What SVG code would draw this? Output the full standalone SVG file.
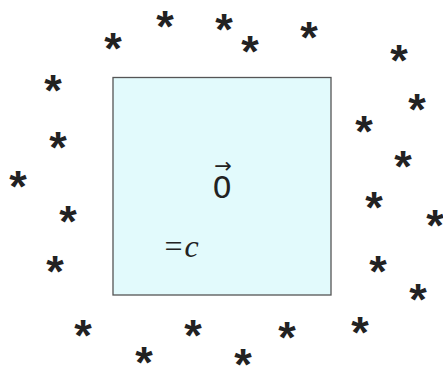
<svg xmlns="http://www.w3.org/2000/svg" width="443" height="366" viewBox="0 0 443 366">
<style>
.s{font-family:"Liberation Sans",Arial,sans-serif;font-size:45px;font-weight:bold;fill:#222;text-anchor:middle}
.box{fill:#e2fafc;stroke:#555;stroke-width:1.3}
.v{font-family:"DejaVu Sans",sans-serif;font-size:31px;fill:#222;text-anchor:middle}
.a{font-family:"DejaVu Sans",sans-serif;font-size:21px;fill:#222;text-anchor:middle}
.m{font-family:"Liberation Serif",serif;font-size:32px;fill:#222}
</style>
<rect width="443" height="366" fill="#fff"/>
<g id="box">
<rect class="box" x="113" y="77.5" width="218" height="217.5"/>
<text class="v" x="222" y="198">0</text>
<text class="a" x="223" y="173">→</text>
<text class="m" x="164.5" y="257">=<tspan font-style="italic" dx="2">c</tspan></text>
</g>
<g id="stars">
<text class="s" x="113" y="64">*</text>
<text class="s" x="165" y="42">*</text>
<text class="s" x="224" y="45">*</text>
<text class="s" x="250" y="67">*</text>
<text class="s" x="309" y="53">*</text>
<text class="s" x="399" y="76">*</text>
<text class="s" x="53" y="106">*</text>
<text class="s" x="417" y="125">*</text>
<text class="s" x="364" y="147">*</text>
<text class="s" x="58" y="163">*</text>
<text class="s" x="403" y="182">*</text>
<text class="s" x="18" y="202">*</text>
<text class="s" x="374" y="223">*</text>
<text class="s" x="435" y="241">*</text>
<text class="s" x="68" y="237">*</text>
<text class="s" x="55" y="287">*</text>
<text class="s" x="378" y="287">*</text>
<text class="s" x="418" y="315">*</text>
<text class="s" x="83" y="351">*</text>
<text class="s" x="193" y="351">*</text>
<text class="s" x="287" y="353">*</text>
<text class="s" x="360" y="348">*</text>
<text class="s" x="144" y="378">*</text>
<text class="s" x="243" y="380">*</text>
</g>
</svg>
